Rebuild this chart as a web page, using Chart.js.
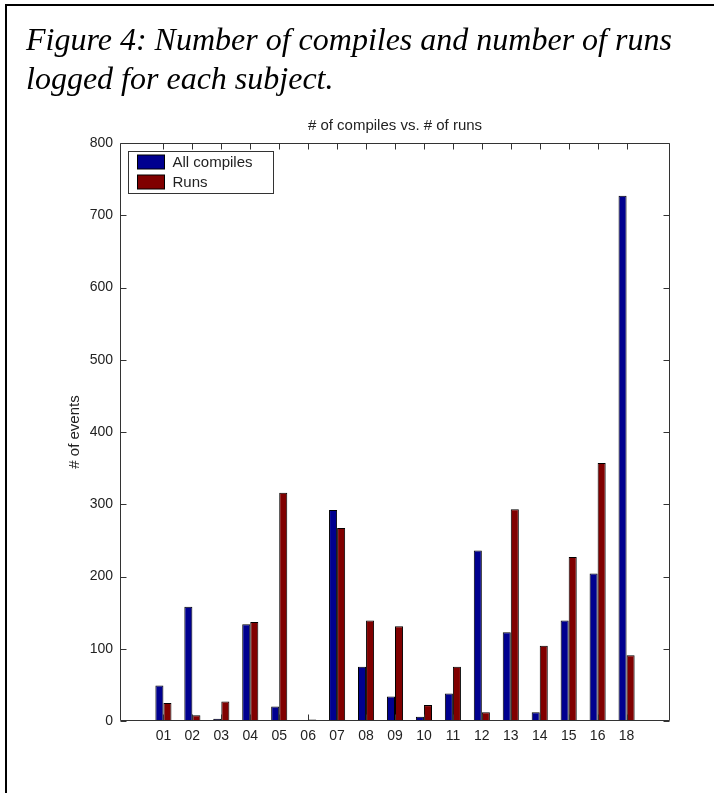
<!DOCTYPE html>
<html><head><meta charset="utf-8">
<script src="https://cdn.jsdelivr.net/npm/chart.js@4.4.1/dist/chart.umd.min.js"></script>
<style>
html,body{margin:0;padding:0;background:#fff;}
#wrap{position:relative;width:714px;height:793px;overflow:hidden;background:#fff;}
#c{position:absolute;left:0;top:0;}
#frame{position:absolute;left:5px;top:4px;width:760px;height:840px;border-left:2px solid #000;border-top:2px solid #000;}
.cap{position:absolute;left:26px;font-family:"Liberation Serif","Times New Roman",serif;font-style:italic;font-size:32px;line-height:36px;white-space:nowrap;color:#000;}
</style></head><body>
<div id="wrap">
<canvas id="c" width="714" height="793"></canvas>
<div id="frame"></div>
<div class="cap" style="top:21px">Figure 4: Number of compiles and number of runs</div>
<div class="cap" style="top:60px">logged for each subject.</div>
</div>
<script>
const categories = ['01','02','03','04','05','06','07','08','09','10','11','12','13','14','15','16','18'];
const compiles = [49, 158, 3, 134, 20, 0, 292, 75, 34, 6, 38, 236, 123, 12, 139, 204, 727];
const runs = [25, 8, 27, 137, 316, 2, 267, 139, 131, 22, 75, 12, 293, 104, 227, 357, 91];
const yTicks = [0, 100, 200, 300, 400, 500, 600, 700, 800];
const chartTitle = '# of compiles vs. # of runs';
const yTitle = '# of events';
const seriesNames = ['All compiles', 'Runs'];

const FONT = '"Liberation Sans", Arial, sans-serif';
const AX = '#333';

const matlabAxes = {
  id: 'matlabAxes',
  afterDatasetsDraw(chart) {
    const {ctx, chartArea, scales} = chart;
    const {left, right, top, bottom} = chartArea;
    ctx.save();
    ctx.strokeStyle = AX;
    ctx.lineWidth = 1;
    const L = Math.round(left) + 0.5, R = Math.round(right) - 0.5;
    const T = Math.round(top) + 0.5, B = Math.round(bottom) - 0.5;
    ctx.beginPath();
    ctx.rect(L, T, R - L, B - T);
    ctx.stroke();
    const tl = 6;
    ctx.beginPath();
    yTicks.forEach(v => {
      const py = Math.round(scales.y.getPixelForValue(v)) + 0.5;
      ctx.moveTo(L, py); ctx.lineTo(L + tl, py);
      ctx.moveTo(R, py); ctx.lineTo(R - tl, py);
    });
    categories.forEach((c, i) => {
      const px = Math.round(scales.x.getPixelForValue(i + 1)) + 0.5;
      ctx.moveTo(px, T); ctx.lineTo(px, T + tl);
      ctx.moveTo(px, B); ctx.lineTo(px, B - tl);
    });
    ctx.stroke();
    ctx.restore();
  },
  afterDraw(chart) {
    const {ctx, chartArea} = chart;
    const bx = Math.round(chartArea.left) + 8.5, by = Math.round(chartArea.top) + 8.5;
    const bw = 145, bh = 42;
    ctx.save();
    ctx.fillStyle = '#fff';
    ctx.strokeStyle = AX;
    ctx.lineWidth = 1;
    ctx.fillRect(bx, by, bw, bh);
    ctx.strokeRect(bx, by, bw, bh);
    ctx.font = '15px ' + FONT;
    ctx.textBaseline = 'middle';
    chart.data.datasets.forEach((ds, i) => {
      const sy = by + 3.5 + i * 20;
      ctx.fillStyle = ds.backgroundColor;
      ctx.fillRect(bx + 9, sy, 27, 14);
      ctx.strokeStyle = '#000';
      ctx.strokeRect(bx + 9, sy, 27, 14);
      ctx.fillStyle = '#222';
      ctx.fillText(ds.label, bx + 44, sy + 7.5);
    });
    ctx.restore();
  }
};

new Chart(document.getElementById('c'), {
  type: 'bar',
  data: {
    datasets: [
      { label: seriesNames[0], data: compiles.map((v, i) => ({x: i + 1, y: v})),
        backgroundColor: '#00008F', borderColor: '#000', borderWidth: 1 },
      { label: seriesNames[1], data: runs.map((v, i) => ({x: i + 1, y: v})),
        backgroundColor: '#800000', borderColor: '#000', borderWidth: 1 }
    ]
  },
  options: {
    responsive: false,
    animation: false,
    devicePixelRatio: 1,
    layout: { padding: { top: 113, left: 0, right: 44, bottom: 0 } },
    datasets: { bar: { categoryPercentage: 0.556, barPercentage: 1 } },
    plugins: {
      legend: { display: false },
      tooltip: { enabled: false },
      title: {
        display: true, text: chartTitle, fullSize: false,
        color: '#222', font: { family: FONT, size: 15, weight: 'normal' },
        padding: { top: 4, bottom: 8 }
      }
    },
    scales: {
      x: {
        type: 'linear', min: 0, max: 18,
        grid: { display: false, drawTicks: false },
        border: { display: false },
        afterFit(s) { s.height = 72; },
        ticks: {
          stepSize: 1, autoSkip: false, maxRotation: 0, padding: 7,
          color: '#222', font: { family: FONT, size: 14 },
          callback: (v) => (Number.isInteger(v) && v >= 1 && v <= categories.length) ? categories[v - 1] : ''
        }
      },
      y: {
        min: 0, max: 800,
        grid: { display: false, drawTicks: false },
        border: { display: false },
        afterFit(s) { s.width = 120; },
        ticks: {
          stepSize: 100, padding: 7, color: '#222', font: { family: FONT, size: 14 }
        },
        title: {
          display: true, text: yTitle, color: '#222',
          font: { family: FONT, size: 15 }, padding: { top: 66, bottom: 0 }
        }
      }
    }
  },
  plugins: [matlabAxes]
});
</script>
</body></html>
